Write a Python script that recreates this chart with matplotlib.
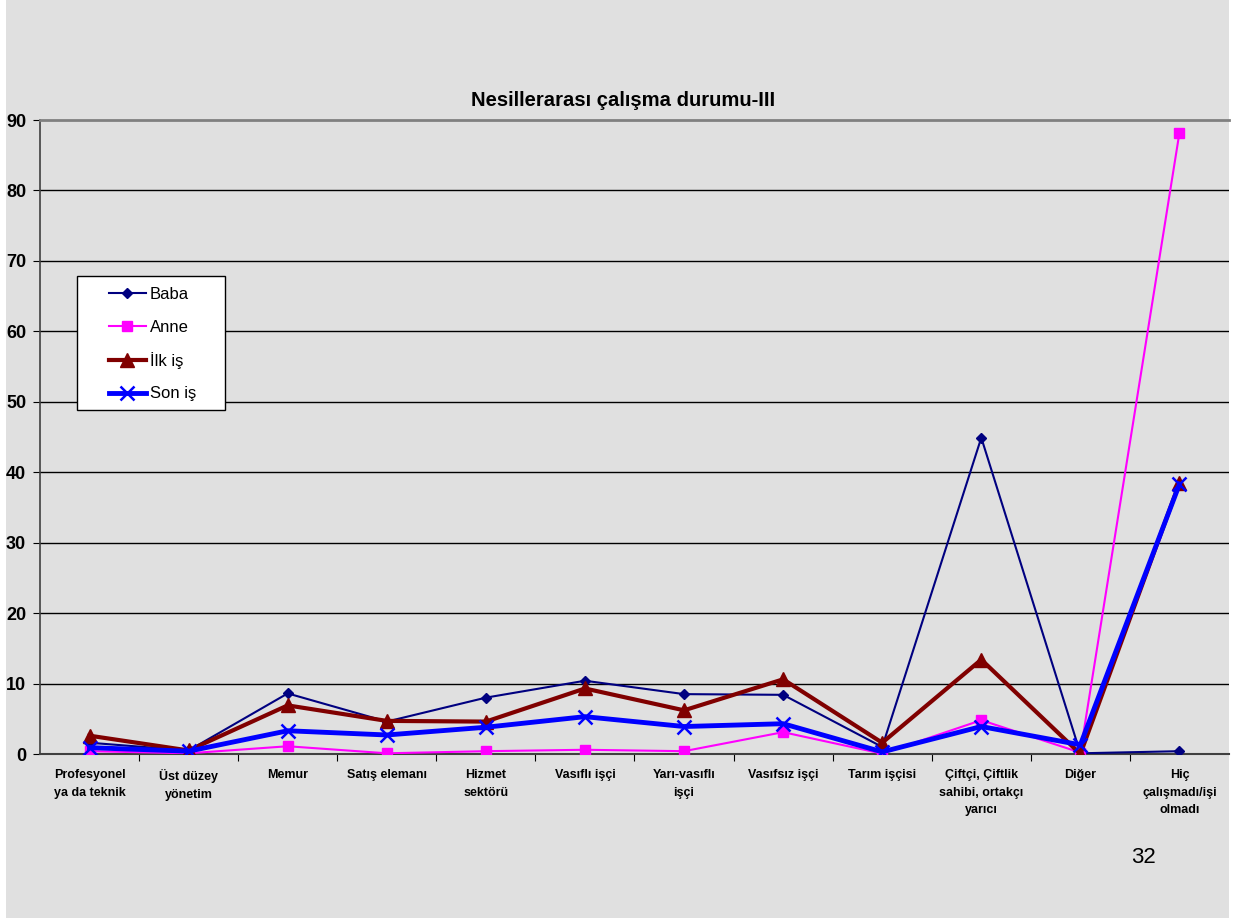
import matplotlib
matplotlib.use("Agg")
import matplotlib.pyplot as plt
from matplotlib.patches import Rectangle

categories = ["Profesyonel\nya da teknik", "Üst düzey\nyönetim", "Memur", "Satış elemanı",
              "Hizmet\nsektörü", "Vasıflı işçi", "Yarı-vasıflı\nişçi", "Vasıfsız işçi",
              "Tarım işçisi", "Çiftçi, Çiftlik\nsahibi, ortakçı\nyarıcı", "Diğer",
              "Hiç\nçalışmadı/işi\nolmadı"]
baba = [1.6, 0.5, 8.6, 4.6, 8.0, 10.4, 8.5, 8.4, 1.0, 44.9, 0.1, 0.4]
anne = [0.4, 0.1, 1.1, 0.1, 0.4, 0.6, 0.4, 3.1, 0.05, 4.8, 0.2, 88.2]
ilk_is = [2.6, 0.5, 6.9, 4.7, 4.6, 9.3, 6.2, 10.6, 1.6, 13.4, 0.0, 38.5]
son_is = [0.9, 0.4, 3.3, 2.7, 3.8, 5.3, 3.9, 4.3, 0.3, 3.9, 1.3, 38.3]
yticks = [0, 10, 20, 30, 40, 50, 60, 70, 80, 90]

W, H = 1235, 921
plt.rcParams['font.family'] = ['Liberation Sans', 'DejaVu Sans']
fig = plt.figure(figsize=(W/100, H/100), dpi=100, facecolor='white')
bg = '#e0e0e0'
fig.patches.append(Rectangle((6/W, 3/H), (1229-6)/W, 1-3/H, transform=fig.transFigure,
                             facecolor=bg, edgecolor='none', zorder=-10))

ax = fig.add_axes([40/W, 1-754/H, (1229-40)/W, (754-120)/H])
ax.set_zorder(1)
ax.set_facecolor(bg)
x = list(range(len(categories)))

ax.plot(x, baba, color='#000080', lw=1.5, marker='D', ms=5.5, label='Baba', zorder=3)
ax.plot(x, anne, color='#ff00ff', lw=1.5, marker='s', ms=7, label='Anne', zorder=3)
ax.plot(x, ilk_is, color='#800000', lw=3, marker='^', ms=10, label='İlk iş', zorder=4)
ax.plot(x, son_is, color='#0000ff', lw=3.5, marker='x', ms=10, mew=1.8, label='Son iş', zorder=5)

ax.set_xlim(-0.5, len(categories)-0.5)
ax.set_ylim(0, 90)
ax.set_yticks(yticks)
ax.set_yticklabels([str(v) for v in yticks], fontsize=13, fontweight='bold')
for v in yticks[1:-1]:
    ax.axhline(v, color='black', lw=1, zorder=1)

ax.set_xticks([i + 0.5 for i in x[:-1]], minor=False)
ax.set_xticklabels([])
ax.set_xticks(x, minor=True)
ax.set_xticklabels(categories, minor=True, fontsize=9, fontweight='bold', linespacing=1.62, va='top')
ax.tick_params(axis='x', which='minor', length=0, pad=11)
ax.tick_params(axis='x', which='major', length=5, direction='out', color='black')
ax.tick_params(axis='y', length=5, direction='out', pad=5)

ax.spines['right'].set_visible(False)
ax.spines['top'].set_color('#808080')
ax.spines['top'].set_linewidth(2)
ax.spines['left'].set_color('#404040')
ax.spines['left'].set_linewidth(1.2)
ax.spines['bottom'].set_color('#404040')
ax.spines['bottom'].set_linewidth(1.5)

fig.text(623/W, 1-100/H, "Nesillerarası çalışma durumu-III", ha='center', va='center',
         fontsize=14.6, fontweight='bold')
fig.text(1143/W, 1-857/H, "32", ha='center', va='center', fontsize=16)

# legend box (fixed size, like the original)
fig.patches.append(Rectangle((77/W, 1-410/H), (225-77)/W, (410-276)/H, transform=fig.transFigure,
                             facecolor='white', edgecolor='black', lw=1, zorder=2))
leg = fig.legend(loc='upper left', bbox_to_anchor=(109/W, 1-287/H), borderaxespad=0, borderpad=0,
                 fontsize=12, frameon=False, handlelength=2.2, labelspacing=1.05,
                 handletextpad=0.25)
leg.set_zorder(3)

fig.savefig("out.png", dpi=100, facecolor='white')
